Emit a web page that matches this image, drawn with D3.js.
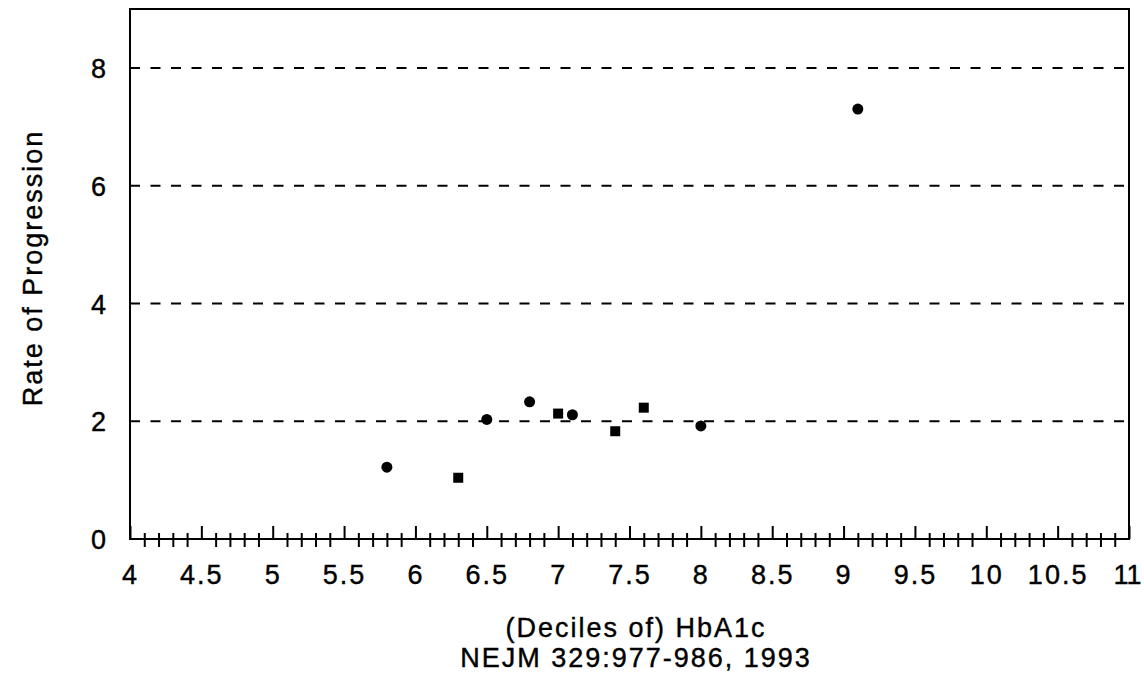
<!DOCTYPE html>
<html>
<head>
<meta charset="utf-8">
<script src="https://cdn.jsdelivr.net/npm/d3@7"></script>
<style>
    body { margin: 0; background: #fff; }
    svg text { font-family: "Liberation Sans", Arial, sans-serif; fill: #000; stroke: #000; stroke-width: 0.4px; letter-spacing: 2px; }
</style>
</head>
<body>
<svg id="chart" width="1144" height="677"></svg>
<script>
'use strict';

// data
const hba1c = [5.8, 6.3, 6.5, 6.8, 7.0, 7.1, 7.4, 7.6, 8.0, 9.1];
const rate = [1.22, 1.04, 2.03, 2.33, 2.13, 2.11, 1.83, 2.23, 1.92, 7.3];
const markerShape = ['circle', 'square', 'circle', 'circle', 'square', 'circle', 'square', 'square', 'circle', 'circle'];

const xTicks = [4, 4.5, 5, 5.5, 6, 6.5, 7, 7.5, 8, 8.5, 9, 9.5, 10, 10.5, 11];
const yTicks = [0, 2, 4, 6, 8];
const gridValues = [2, 4, 6, 8];

const xTitle = "(Deciles of) HbA1c";
const sourceNote = "NEJM 329:977-986, 1993";
const yTitle = "Rate of Progression";

const FONT = 27;
const box = { left: 130, top: 9, right: 1129, bottom: 539 };

const svg = d3.select('#chart');

const x = d3.scaleLinear().domain([4, 11]).range([box.left, box.right]);
const y = d3.scaleLinear().domain([0, 9]).range([box.bottom, box.top]);

// dashed grid lines
svg.append('g')
    .selectAll('line')
    .data(gridValues)
    .join('line')
    .attr('x1', box.left)
    .attr('x2', box.right)
    .attr('y1', d => y(d))
    .attr('y2', d => y(d))
    .attr('stroke', '#000')
    .attr('stroke-width', 2)
    .attr('stroke-dasharray', '10,10.5');

// minor ticks every 0.1, crossing the axis line
const minorTicks = d3.range(41, 110).map(d => d / 10).filter(d => Math.round(d * 10) % 5 !== 0);
svg.append('g')
    .attr('transform', `translate(0, ${box.bottom - 6})`)
    .call(d3.axisBottom(x).tickValues(minorTicks).tickSize(14).tickFormat(''))
    .call(g => g.select('.domain').remove())
    .call(g => g.selectAll('line').attr('stroke', '#000').attr('stroke-width', 2));

// major ticks point up, labels below
const xAxis = svg.append('g')
    .attr('transform', `translate(0, ${box.bottom})`)
    .call(d3.axisBottom(x).tickValues(xTicks).tickSizeInner(-13).tickSizeOuter(0).tickPadding(0).tickFormat(d3.format('')))
    .call(g => g.select('.domain').remove());

xAxis.selectAll('line')
    .attr('stroke', '#000')
    .attr('stroke-width', 2);

xAxis.selectAll('text')
    .attr('font-size', FONT)
    .attr('font-family', null)
    .attr('y', 45)
    .attr('dy', null);

// last label sits against the right edge of the picture
xAxis.selectAll('text')
    .filter(d => d === 11)
    .style('letter-spacing', '0px')
    .attr('dx', -2);

// y labels, no visible ticks
const yAxis = svg.append('g')
    .attr('transform', `translate(${box.left}, 0)`)
    .call(d3.axisLeft(y).tickValues(yTicks).tickSize(0).tickPadding(22))
    .call(g => g.select('.domain').remove());

yAxis.selectAll('text')
    .attr('font-size', FONT)
    .attr('font-family', null)
    .attr('dy', '0.36em');

// frame
svg.append('rect')
    .attr('x', box.left)
    .attr('y', box.top)
    .attr('width', box.right - box.left)
    .attr('height', box.bottom - box.top)
    .attr('fill', 'none')
    .attr('stroke', '#000')
    .attr('stroke-width', 2);

// points
const points = svg.append('g');
hba1c.forEach((v, i) => {
    if (markerShape[i] === 'square') {
        points.append('rect')
            .attr('x', x(v) - 5)
            .attr('y', y(rate[i]) - 5)
            .attr('width', 10)
            .attr('height', 10)
            .attr('fill', '#000');
    } else {
        points.append('circle')
            .attr('cx', x(v))
            .attr('cy', y(rate[i]))
            .attr('r', 5.5)
            .attr('fill', '#000');
    }
});

// titles
svg.append('text')
    .attr('x', 636)
    .attr('y', 637)
    .attr('text-anchor', 'middle')
    .attr('font-size', FONT)
    .text(xTitle);

svg.append('text')
    .attr('x', 636)
    .attr('y', 667)
    .attr('text-anchor', 'middle')
    .attr('font-size', FONT)
    .text(sourceNote);

svg.append('text')
    .attr('transform', 'translate(42, 268) rotate(-90)')
    .attr('text-anchor', 'middle')
    .attr('font-size', FONT)
    .text(yTitle);
</script>
</body>
</html>
